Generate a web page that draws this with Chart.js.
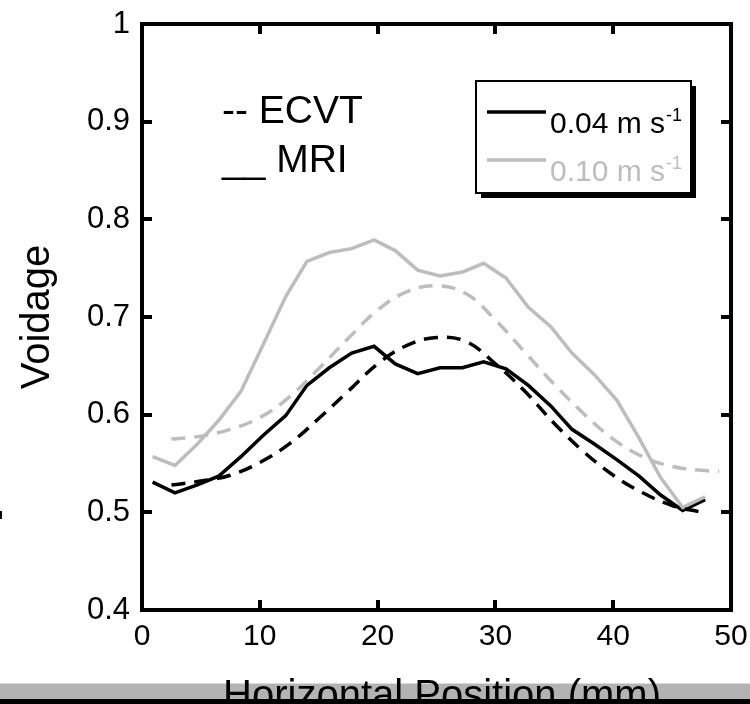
<!DOCTYPE html>
<html>
<head>
<meta charset="utf-8">
<title>Voidage profile</title>
<script src="https://cdn.jsdelivr.net/npm/chart.js@4.4.1/dist/chart.umd.min.js"></script>
<style>
  html, body { margin: 0; padding: 0; background: #ffffff; }
  #voidageChart { display: block; }
</style>
</head>
<body>
<canvas id="voidageChart" width="750" height="704"></canvas>
<script>
// Voidage vs horizontal position, ECVT (dashed) against MRI (solid)

const FONT = "'Liberation Sans', Arial, sans-serif";
const GREY = '#bdbdbd';

// MRI profiles
const mriX = [0.9, 2.8, 4.7, 6.5, 8.4, 10.3, 12.2, 14.0, 15.9, 17.8, 19.7, 21.5, 23.4,
              25.3, 27.2, 29.0, 30.9, 32.8, 34.7, 36.5, 38.4, 40.3, 42.2, 44.0, 45.9, 47.8];
const mri004 = [0.531, 0.520, 0.528, 0.537, 0.557, 0.579, 0.599, 0.630, 0.648, 0.663, 0.670, 0.652, 0.642,
                0.648, 0.648, 0.654, 0.647, 0.630, 0.609, 0.585, 0.570, 0.554, 0.537, 0.518, 0.502, 0.513];
const mri010 = [0.557, 0.548, 0.570, 0.594, 0.624, 0.672, 0.721, 0.757, 0.766, 0.770, 0.779, 0.768, 0.748,
                0.742, 0.746, 0.755, 0.740, 0.710, 0.690, 0.663, 0.641, 0.615, 0.576, 0.536, 0.505, 0.516];

// ECVT profiles
const ecvtX = [2.5, 5, 7.5, 10, 12.5, 15, 17.5, 20, 22.5, 25, 27.5, 30, 32.5, 35, 37.5, 40, 42.5, 45, 47.5, 49];
const ecvt004 = [0.528, 0.532, 0.538, 0.551, 0.570, 0.596, 0.624, 0.652, 0.671, 0.679, 0.675, 0.652,
                 0.624, 0.591, 0.562, 0.538, 0.520, 0.507, 0.500, null];
const ecvt010 = [0.575, 0.578, 0.585, 0.597, 0.618, 0.647, 0.678, 0.707, 0.726, 0.732, 0.724, 0.697,
                 0.664, 0.631, 0.601, 0.575, 0.557, 0.547, 0.543, 0.542];

const velocityLabels = ['0.04 m s', '0.10 m s'];
const xTicks = [0, 10, 20, 30, 40, 50];
const yTicks = [0.4, 0.5, 0.6, 0.7, 0.8, 0.9, 1.0];

function toPoints(xs, ys) {
    return xs.map((x, i) => ({ x: x, y: ys[i] }));
}

// frame with inward ticks, legend box, notes and the cut-off bottom band
const decorations = {
    id: 'decorations',
    afterDraw(chart) {
        const ctx = chart.ctx;
        const area = chart.chartArea;
        const xs = chart.scales.x;
        const ys = chart.scales.y;
        const tick = 10;

        ctx.save();
        ctx.strokeStyle = '#000';
        ctx.lineWidth = 4;
        ctx.lineCap = 'butt';
        ctx.strokeRect(area.left, area.top, area.right - area.left, area.bottom - area.top);

        ctx.beginPath();
        xTicks.slice(1, -1).forEach(v => {
            const px = Math.round(xs.getPixelForValue(v));
            ctx.moveTo(px, area.bottom); ctx.lineTo(px, area.bottom - tick);
            ctx.moveTo(px, area.top); ctx.lineTo(px, area.top + tick);
        });
        yTicks.slice(1, -1).forEach(v => {
            const py = Math.round(ys.getPixelForValue(v));
            ctx.moveTo(area.left, py); ctx.lineTo(area.left + tick, py);
            ctx.moveTo(area.right, py); ctx.lineTo(area.right - tick, py);
        });
        ctx.stroke();

        // legend
        const lx = 476, ly = 81, lw = 215, lh = 112;
        ctx.fillStyle = '#000';
        ctx.fillRect(lx + 5, ly + 5, lw, lh);
        ctx.fillStyle = '#fff';
        ctx.fillRect(lx, ly, lw, lh);
        ctx.lineWidth = 2;
        ctx.strokeRect(lx, ly, lw, lh);

        const rows = [
            { color: '#000', y: 112 },
            { color: GREY, y: 160 }
        ];
        rows.forEach((r, i) => {
            ctx.strokeStyle = r.color;
            ctx.lineWidth = 3.5;
            ctx.beginPath();
            ctx.moveTo(487, r.y);
            ctx.lineTo(546, r.y);
            ctx.stroke();
            ctx.fillStyle = r.color;
            ctx.textAlign = 'left';
            ctx.textBaseline = 'alphabetic';
            ctx.font = '30px ' + FONT;
            ctx.fillText(velocityLabels[i], 550, r.y + 21);
            const w = ctx.measureText(velocityLabels[i]).width;
            ctx.font = '18px ' + FONT;
            ctx.fillText('-1', 550 + w + 1, r.y + 9);
        });

        // line style notes
        ctx.fillStyle = '#000';
        ctx.font = '39px ' + FONT;
        ctx.textAlign = 'left';
        ctx.fillText('-- ECVT', 222, 123);
        ctx.fillText('__ MRI', 222, 172);

        // stray mark at left edge
        ctx.fillRect(0, 511, 2, 8);

        // bottom band with the clipped axis title
        ctx.fillStyle = '#b3b3b3';
        ctx.fillRect(0, 683, 750, 16);
        ctx.fillStyle = '#dcdcdc';
        ctx.fillRect(0, 683, 750, 1);
        ctx.fillStyle = '#000';
        ctx.font = '40px ' + FONT;
        ctx.textAlign = 'center';
        ctx.fillText('Horizontal Position (mm)', 442, 708);
        ctx.fillRect(0, 699, 750, 5);
        ctx.restore();
    }
};

const canvas = document.getElementById('voidageChart');
if (canvas && typeof Chart !== 'undefined') {
    const ctx = canvas.getContext('2d');

    new Chart(ctx, {
        type: 'line',
        data: {
            datasets: [
                {
                    label: 'ECVT 0.10',
                    data: toPoints(ecvtX, ecvt010),
                    borderColor: GREY,
                    borderWidth: 3.5,
                    borderDash: [14, 9],
                    tension: 0.4,
                    pointRadius: 0
                },
                {
                    label: 'ECVT 0.04',
                    data: toPoints(ecvtX, ecvt004),
                    borderColor: '#000',
                    borderWidth: 3.5,
                    borderDash: [14, 9],
                    tension: 0.4,
                    pointRadius: 0
                },
                {
                    label: 'MRI 0.10',
                    data: toPoints(mriX, mri010),
                    borderColor: GREY,
                    borderWidth: 3.5,
                    tension: 0,
                    pointRadius: 0
                },
                {
                    label: 'MRI 0.04',
                    data: toPoints(mriX, mri004),
                    borderColor: '#000',
                    borderWidth: 3.5,
                    tension: 0,
                    pointRadius: 0
                }
            ]
        },
        options: {
            responsive: false,
            animation: false,
            devicePixelRatio: 1,
            layout: {
                padding: { left: 0, top: 24, right: 19, bottom: 0 }
            },
            plugins: {
                legend: { display: false },
                tooltip: { enabled: false }
            },
            scales: {
                x: {
                    type: 'linear',
                    min: 0,
                    max: 50,
                    afterFit: (scale) => { scale.height = 94; },
                    afterBuildTicks: (scale) => { scale.ticks = xTicks.map(v => ({ value: v })); },
                    grid: { display: false, drawTicks: false },
                    border: { display: false },
                    ticks: {
                        color: '#000',
                        padding: 2,
                        font: { family: FONT, size: 30, lineHeight: 1.67 },
                        maxRotation: 0
                    }
                },
                y: {
                    type: 'linear',
                    min: 0.4,
                    max: 1.0,
                    afterFit: (scale) => { scale.width = 142; },
                    afterBuildTicks: (scale) => { scale.ticks = yTicks.map(v => ({ value: v })); },
                    grid: { display: false, drawTicks: false },
                    border: { display: false },
                    title: {
                        display: true,
                        text: 'Voidage',
                        color: '#000',
                        font: { family: FONT, size: 40 },
                        padding: { top: 14, bottom: 0 }
                    },
                    ticks: {
                        color: '#000',
                        padding: 12,
                        font: { family: FONT, size: 31, lineHeight: 0.7 },
                        callback: function(value) {
                            return value === 1 ? '1' : value.toFixed(1);
                        }
                    }
                }
            }
        },
        plugins: [decorations]
    });
}
</script>
</body>
</html>
